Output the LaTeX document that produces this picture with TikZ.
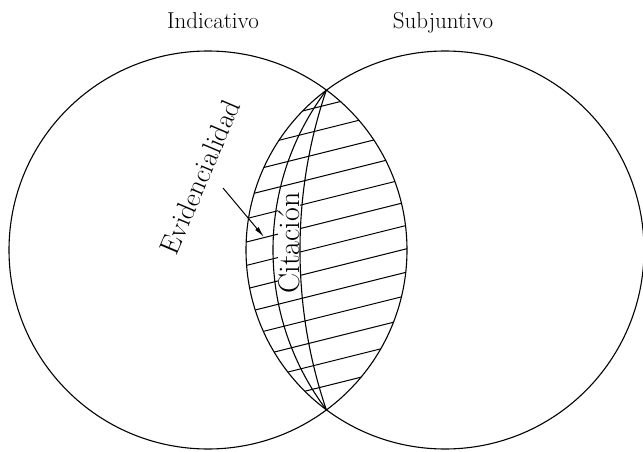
\documentclass[tikz,border=0pt]{standalone}
\usepackage{fontspec}
\usetikzlibrary{arrows.meta}
\begin{document}
\begin{tikzpicture}[x=1pt,y=-1pt,
    ring/.style={line width=1.1pt},
    hatch/.style={line width=1pt},
    title/.style={font=\fontsize{23}{27}\selectfont},
    tag/.style={font=\fontsize{28}{32}\selectfont, inner sep=0pt}]
    \useasboundingbox (0,0) rectangle (643,452);
    \coordinate (ind) at (208,250);
    \coordinate (sub) at (445,250);
    % the hatching, only inside the overlap
    \begin{scope}
        \clip (ind) circle[radius=199pt];
        \clip (sub) circle[radius=199pt];
        \foreach \k in {0,...,12}
        \draw[hatch] (230,{105+23.4*\k+0.25*96.5}) -- (420,{105+23.4*\k-0.25*93.5});
        \node[tag, fill=white, rotate=90, font=\fontsize{30}{34}\selectfont] (cit) at (289,243) {Citación}; % white behind the label
        \draw[ring] (538.7,250) circle[radius=265.7pt];
        \draw[ring] (795.7,250) circle[radius=495.7pt];
    \end{scope}
    \draw[ring] (ind) circle[radius=199pt];
    \draw[ring] (sub) circle[radius=199pt];
    \node[title, anchor=base] (indt) at (213,29) {Indicativo};
    \node[title, anchor=base] (subt) at (443,29) {Subjuntivo};
    \node[tag, rotate=67] (evid) at (200,177) {Evidencialidad};
    \coordinate (evtail) at (223,188);
    \coordinate (evtip) at (264,237);
    \draw[hatch, -{Latex[length=11pt,width=4.5pt]}] (evtail) -- (evtip);
\end{tikzpicture}
\end{document}
